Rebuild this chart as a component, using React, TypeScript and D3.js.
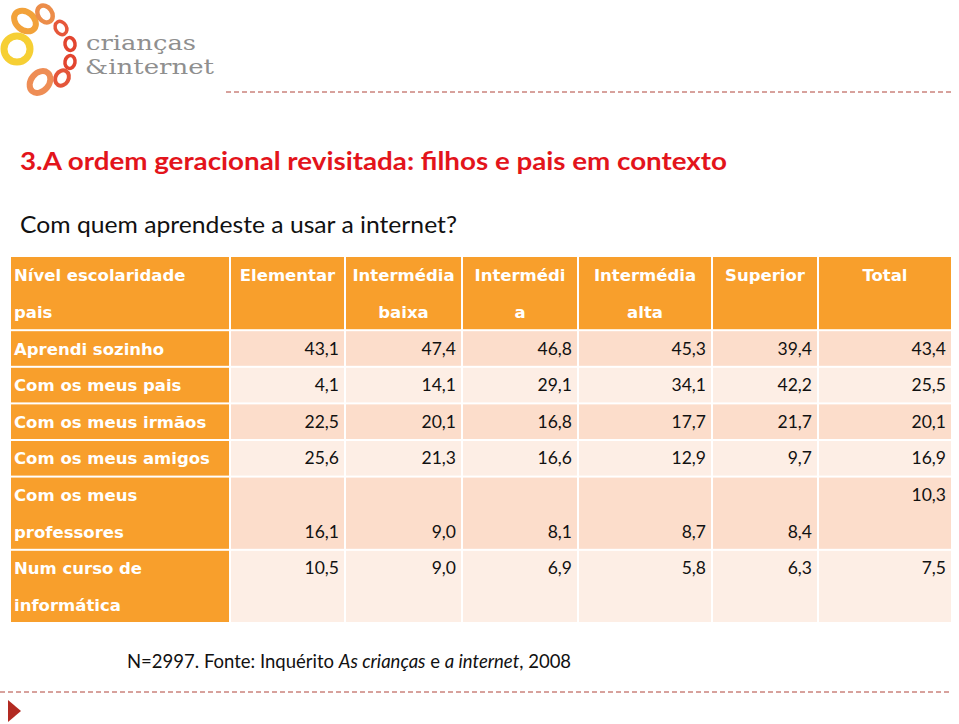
import React from "react";
import * as d3 from "d3";

const headerLine1 = ["Nível escolaridade", "Elementar", "Intermédia", "Intermédi", "Intermédia", "Superior", "Total"];
const headerLine2 = ["pais", "", "baixa", "a", "alta", "", ""];

const rowLabels = [
  ["Aprendi sozinho"],
  ["Com os meus pais"],
  ["Com os meus irmãos"],
  ["Com os meus amigos"],
  ["Com os meus", "professores"],
  ["Num curso de", "informática"],
];

const elementar = [43.1, 4.1, 22.5, 25.6, 16.1, 10.5];
const intermediaBaixa = [47.4, 14.1, 20.1, 21.3, 9.0, 9.0];
const intermedia = [46.8, 29.1, 16.8, 16.6, 8.1, 6.9];
const intermediaAlta = [45.3, 34.1, 17.7, 12.9, 8.7, 5.8];
const superior = [39.4, 42.2, 21.7, 9.7, 8.4, 6.3];
const total = [43.4, 25.5, 20.1, 16.9, 10.3, 7.5];

// which text line (within the row) each value sits on: per column
const valueLine = [
  [0, 0, 0, 0, 0, 0],
  [0, 0, 0, 0, 0, 0],
  [0, 0, 0, 0, 0, 0],
  [0, 0, 0, 0, 0, 0],
  [1, 1, 1, 1, 1, 0],
  [0, 0, 0, 0, 0, 0],
];

const series = [elementar, intermediaBaixa, intermedia, intermediaAlta, superior, total];

const colWidths = [220, 115, 117, 116, 134, 106, 134];

const ORANGE = "#F89F2C";
const PEACH_DARK = "#FCDDCB";
const PEACH_LIGHT = "#FDEEE5";
const FONT = "Lato, 'DejaVu Sans', sans-serif";
const BOLD_FONT = "'DejaVu Sans', sans-serif";

const fmt = (v: number) => d3.format(".1f")(v).replace(".", ",");

export default function App() {
  const W = 959, H = 724;
  const tableLeft = 10, tableTop = 257, tableBottom = 623;
  const edges = [tableLeft, ...Array.from(d3.cumsum(colWidths)).map((c) => tableLeft + c)];
  const lineCounts = [2, ...rowLabels.map((r) => r.length)];
  const totalLines = d3.sum(lineCounts);
  const yLine = d3.scaleLinear().domain([0, totalLines]).range([tableTop, tableBottom]);
  const rowStart = [0, ...Array.from(d3.cumsum(lineCounts))];

  const gap = 1;

  // logo rings
  const rings = [
    { cx: 25, cy: 21, rx: 12, ry: 9, rot: 40, c: "#F2A23A", w: 6 },
    { cx: 45, cy: 14, rx: 9, ry: 7, rot: 55, c: "#EC8D4A", w: 4.5 },
    { cx: 61, cy: 28, rx: 7, ry: 5.5, rot: 60, c: "#E6573A", w: 3.5 },
    { cx: 70, cy: 44, rx: 6.5, ry: 5, rot: 80, c: "#E2452F", w: 3.5 },
    { cx: 70, cy: 62, rx: 6.5, ry: 5, rot: 100, c: "#E2452F", w: 3.5 },
    { cx: 62, cy: 78, rx: 8, ry: 6.5, rot: 120, c: "#E4563A", w: 4 },
    { cx: 40, cy: 82, rx: 12, ry: 9, rot: 130, c: "#EE8D55", w: 6 },
    { cx: 17, cy: 49, rx: 13, ry: 13, rot: 0, c: "#F6CF34", w: 7 },
  ];

  return (
    <svg width={W} height={H} style={{ position: "absolute", left: 0, top: 0, background: "#fff" }}>
      <rect x={0} y={0} width={W} height={H} fill="#fff" />
      {/* logo */}
      {rings.map((r, i) => (
        <ellipse key={i} cx={r.cx} cy={r.cy} rx={r.rx} ry={r.ry} fill="none" stroke={r.c}
          strokeWidth={r.w} transform={`rotate(${r.rot} ${r.cx} ${r.cy})`} />
      ))}
      <text x={86} y={50} fill="#8f8f8f" fontFamily="'DejaVu Serif', serif" fontSize={21}
        textLength={110} lengthAdjust="spacingAndGlyphs">crianças</text>
      <text x={85} y={74} fill="#8f8f8f" fontFamily="'DejaVu Serif', serif" fontSize={21}
        textLength={129} lengthAdjust="spacingAndGlyphs">&amp;internet</text>
      <line x1={226} x2={952} y1={92} y2={92} stroke="#B0443A" strokeWidth={1} strokeDasharray="5,3" />

      {/* title */}
      <text x={20} y={170} fill="#E3141B" fontFamily={FONT} fontWeight="bold" fontSize={24}
        textLength={707} lengthAdjust="spacingAndGlyphs">3.A ordem geracional revisitada: filhos e pais em contexto</text>
      <text x={20} y={233} fill="#111" fontFamily={FONT} fontSize={22.5}
        textLength={437} lengthAdjust="spacingAndGlyphs">Com quem aprendeste a usar a internet?</text>

      {/* header cells */}
      {colWidths.map((_, j) => (
        <rect key={"h" + j} x={edges[j] + gap} y={yLine(0)} width={edges[j + 1] - edges[j] - 2 * gap}
          height={yLine(2) - yLine(0) - gap} fill={ORANGE} />
      ))}
      {headerLine1.map((t, j) => (
        <text key={"h1" + j} x={j === 0 ? edges[0] + 4 : (edges[j] + edges[j + 1]) / 2}
          y={yLine(0.5) + 6} textAnchor={j === 0 ? "start" : "middle"} fill="#fff"
          fontFamily={BOLD_FONT} fontWeight="bold" fontSize={16.5}>{t}</text>
      ))}
      {headerLine2.map((t, j) => (
        <text key={"h2" + j} x={j === 0 ? edges[0] + 4 : (edges[j] + edges[j + 1]) / 2}
          y={yLine(1.5) + 6} textAnchor={j === 0 ? "start" : "middle"} fill="#fff"
          fontFamily={BOLD_FONT} fontWeight="bold" fontSize={16.5}>{t}</text>
      ))}

      {/* body */}
      {rowLabels.map((lab, i) => {
        const s = rowStart[i + 1];
        const e = rowStart[i + 2];
        const fill = i % 2 === 0 ? PEACH_DARK : PEACH_LIGHT;
        return (
          <g key={"r" + i}>
            {colWidths.map((_, j) => (
              <rect key={j} x={edges[j] + gap} y={yLine(s) + gap} width={edges[j + 1] - edges[j] - 2 * gap}
                height={yLine(e) - yLine(s) - 2 * gap} fill={j === 0 ? ORANGE : fill} />
            ))}
            {lab.map((t, k) => (
              <text key={"l" + k} x={edges[0] + 4} y={yLine(s + k + 0.5) + 6} fill="#fff"
                fontFamily={BOLD_FONT} fontWeight="bold" fontSize={16.5}>{t}</text>
            ))}
            {series.map((ser, j) => (
              <text key={"v" + j} x={edges[j + 2] - 6} y={yLine(s + valueLine[i][j] + 0.5) + 6}
                textAnchor="end" fill="#111" fontFamily={FONT} fontSize={17.5}>{fmt(ser[i])}</text>
            ))}
          </g>
        );
      })}

      {/* footer */}
      <text x={127} y={668} fill="#111" fontFamily={FONT} fontSize={18.5}>
        N=2997. Fonte: Inquérito <tspan fontStyle="italic">As crianças</tspan> e{" "}
        <tspan fontStyle="italic">a internet</tspan>, 2008
      </text>
      <line x1={0} x2={952} y1={692} y2={692} stroke="#B0443A" strokeWidth={1} strokeDasharray="5,3" />
      <path d={d3.line()([[8, 700], [21, 711], [8, 722]]) + "Z"} fill="#B22A22" />
    </svg>
  );
}
